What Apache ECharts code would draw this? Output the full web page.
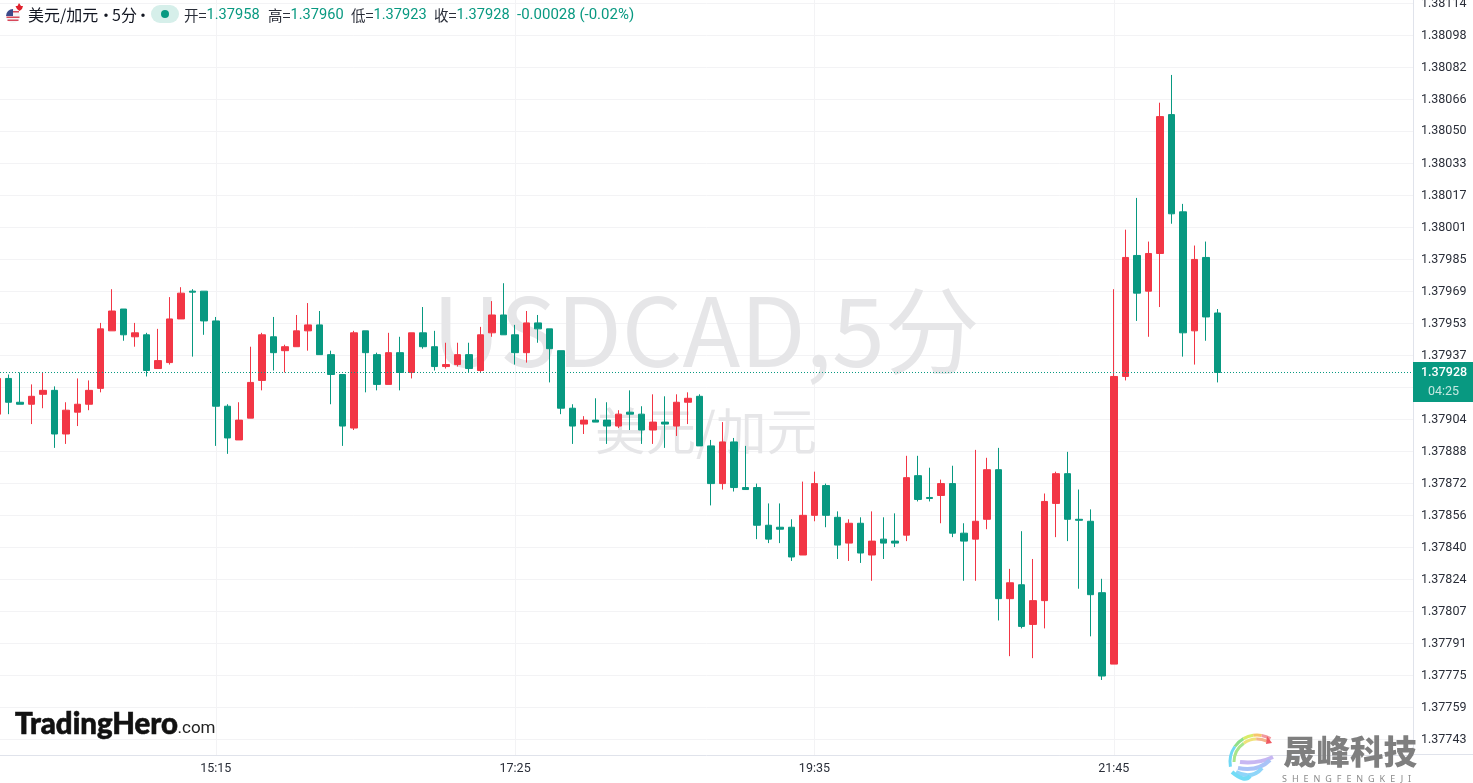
<!DOCTYPE html>
<html><head><meta charset="utf-8">
<style>html,body{margin:0;padding:0;background:#fff;overflow:hidden}#c{width:1473px;height:783px}
#cap{position:absolute;left:1282px;top:774px;font:9px/10px "Noto Sans",sans-serif;letter-spacing:4.95px;color:#8a8a8a;white-space:nowrap}</style>
<script src="https://cdn.jsdelivr.net/npm/echarts@6/dist/echarts.min.js"></script>
</head><body><div id="c"></div><div id="cap">SHENGFENGKEJI</div>
<script>
const times=['13:40','13:45','13:50','13:55','14:00','14:05','14:10','14:15','14:20','14:25',
'14:30','14:35','14:40','14:45','14:50','14:55','15:00','15:05','15:10','15:15',
'15:20','15:25','15:30','15:35','15:40','15:45','15:50','15:55','16:00','16:05',
'16:10','16:15','16:20','16:25','16:30','16:35','16:40','16:45','16:50','16:55',
'17:00','17:05','17:10','17:15','17:20','17:25','17:30','17:35','17:40','17:45',
'17:50','17:55','18:00','18:05','18:10','18:15','18:20','18:25','18:30','18:35',
'18:40','18:45','18:50','18:55','19:00','19:05','19:10','19:15','19:20','19:25',
'19:30','19:35','19:40','19:45','19:50','19:55','20:00','20:05','20:10','20:15',
'20:20','20:25','20:30','20:35','20:40','20:45','20:50','20:55','21:00','21:05',
'21:10','21:15','21:20','21:25','21:30','21:35','21:40','21:45','21:50','21:55',
'22:00','22:05','22:10','22:15','22:20','22:25','22:30'];
const opens=[1.37907,1.37925,1.37913,1.37912,1.37917,1.37919,1.37897,1.37908,1.37912,1.37920,
1.37949,1.37960,1.37946,1.37947,1.37930,1.37933,1.37955,1.37969,1.37969,1.37954,
1.37911,1.37894,1.37905,1.37924,1.37946,1.37939,1.37941,1.37949,1.37952,1.37937,
1.37927,1.37900,1.37949,1.37937,1.37922,1.37938,1.37928,1.37948,1.37941,1.37931,
1.37932,1.37937,1.37929,1.37948,1.37957,1.37947,1.37938,1.37953,1.37950,1.37939,
1.37910,1.37902,1.37904,1.37904,1.37901,1.37908,1.37907,1.37899,1.37903,1.37901,
1.37913,1.37916,1.37891,1.37872,1.37893,1.37870,1.37870,1.37851,1.37850,1.37850,
1.37836,1.37856,1.37871,1.37855,1.37842,1.37852,1.37836,1.37844,1.37843,1.37846,
1.37876,1.37865,1.37866,1.37872,1.37847,1.37844,1.37854,1.37879,1.37814,1.37821,
1.37801,1.37813,1.37862,1.37877,1.37854,1.37853,1.37817,1.37781,1.37926,1.37987,
1.37969,1.37988,1.38058,1.38009,1.37949,1.37986,1.37958];
const closes=[1.37925,1.37913,1.37912,1.37916,1.37919,1.37897,1.37909,1.37912,1.37919,1.37950,
1.37959,1.37947,1.37948,1.37929,1.37934,1.37955,1.37968,1.379685,1.37954,1.37911,
1.37895,1.37904,1.37923,1.37947,1.37938,1.37941,1.37949,1.37952,1.37937,1.37927,
1.37901,1.37948,1.37938,1.37922,1.37938,1.37928,1.37948,1.37941,1.37931,1.37932,
1.37937,1.37930,1.37947,1.37957,1.37947,1.37938,1.37953,1.37950,1.37940,1.37910,
1.37901,1.37904,1.37903,1.37901,1.37907,1.37907,1.37899,1.37903,1.37902,1.37913,
1.37915,1.37891,1.37872,1.37893,1.37870,1.37869,1.37851,1.37844,1.37849,1.37835,
1.37856,1.37872,1.37856,1.37841,1.37852,1.37837,1.37843,1.37842,1.37842,1.37875,
1.37864,1.378645,1.37872,1.37847,1.37843,1.37853,1.37879,1.37814,1.37822,1.37800,
1.37813,1.37863,1.37877,1.37854,1.378535,1.37816,1.37775,1.37926,1.37986,1.37968,
1.37988,1.38057,1.38008,1.37948,1.37985,1.37956,1.37928];
const lows=[1.37907,1.37907,1.37912,1.37902,1.37910,1.37890,1.37892,1.37901,1.37909,1.37918,
1.37949,1.37944,1.37941,1.37926,1.37930,1.37932,1.37955,1.37936,1.37947,1.37891,
1.37887,1.37894,1.37905,1.37919,1.37929,1.37928,1.37941,1.37939,1.37937,1.37912,
1.37891,1.37899,1.37918,1.37919,1.37922,1.37919,1.37925,1.37940,1.37929,1.37930,
1.37931,1.37928,1.37928,1.37946,1.37947,1.37932,1.37933,1.37943,1.37923,1.37907,
1.37892,1.37897,1.37903,1.37892,1.37900,1.37899,1.37892,1.37892,1.37890,1.37896,
1.37902,1.37891,1.37861,1.37869,1.37868,1.37869,1.37844,1.37842,1.37842,1.37833,
1.37836,1.37853,1.37850,1.37834,1.37833,1.37832,1.37823,1.37834,1.37840,1.37843,
1.37863,1.37863,1.37852,1.37845,1.37823,1.37823,1.37849,1.37803,1.37785,1.37799,
1.37784,1.37799,1.37845,1.37843,1.37819,1.37795,1.37773,1.37781,1.37924,1.37954,
1.37946,1.37961,1.38003,1.37936,1.37932,1.37944,1.37923];
const highs=[1.37925,1.37927,1.37928,1.37922,1.37928,1.37921,1.37913,1.37925,1.37924,1.37953,
1.37970,1.37960,1.37953,1.37948,1.37950,1.37966,1.37971,1.37970,1.37969,1.37956,
1.37912,1.37913,1.37941,1.37948,1.37956,1.37942,1.37957,1.37963,1.37959,1.37939,
1.37927,1.37949,1.37949,1.37938,1.37948,1.37946,1.37948,1.37961,1.37949,1.37943,
1.37943,1.37943,1.37951,1.37964,1.37973,1.37952,1.37959,1.37957,1.37950,1.37939,
1.37912,1.37906,1.37915,1.37913,1.37909,1.37919,1.37911,1.37917,1.37916,1.37917,
1.37918,1.37917,1.37894,1.37903,1.37895,1.37891,1.37872,1.37862,1.37862,1.37854,
1.37873,1.37878,1.37872,1.37858,1.37854,1.37855,1.37858,1.37855,1.37857,1.37886,
1.37886,1.37880,1.37874,1.37881,1.37852,1.37889,1.37885,1.37890,1.37829,1.37848,
1.37834,1.37867,1.37878,1.37888,1.37869,1.37859,1.37824,1.37970,1.38000,1.38016,
1.37994,1.38064,1.38078,1.38013,1.37992,1.37994,1.37960];
const priceTicks=[1.38114,1.380979,1.380817,1.380656,1.380496,1.380334,1.380172,1.380011,1.37985,1.379688,
1.379527,1.379366,1.379204,1.379043,1.378882,1.378721,1.378559,1.378398,1.378237,1.378074,
1.377914,1.377753,1.377591,1.37743];
const timeTicks=['15:15','17:25','19:35','21:45'];
const lastClose=1.37928;
const countdown='04:25';
const xMin=821.3,xMax=1434.96,yMin=1.3773518,yMax=1.3811578;

const toMin=t=>{const p=t.split(':');return +p[0]*60+ +p[1]};
const toTime=m=>String(Math.floor(m/60)).padStart(2,'0')+':'+String(m%60).padStart(2,'0');
const candles=times.map((t,i)=>[toMin(t),opens[i],closes[i],lows[i],highs[i]]);
const UP='#F23645',DOWN='#089981',TXT='#2a2e39',GRID='#f3f3f5',AX='#e0e3eb';
const FONT='Roboto,"Noto Sans CJK SC",sans-serif';
const CJK='"Noto Sans CJK SC",Roboto,sans-serif';

const T=(x,y,text,o)=>({type:'text',x,y,z:o.z||50,silent:true,style:Object.assign({text,fontFamily:FONT,fontSize:13,fill:TXT,verticalAlign:'middle'},o.s||{})});
const ohlc=(x,lab,val)=>({type:'text',x,y:15,z:50,silent:true,style:{
  text:'{a|'+lab+'=}{b|'+val+'}',verticalAlign:'middle',
  rich:{a:{fontFamily:CJK,fontSize:14.5,fill:'#2a2e39',color:'#2a2e39'},b:{fontFamily:FONT,fontSize:14.6,fill:DOWN,color:DOWN}}}});
const TT={fontFamily:CJK,fontSize:16,fill:'#131722'};

const graphics=[
 T(706,331,'USDCAD,5分',{z:1,s:{fontFamily:'"Noto Sans CJK SC",sans-serif',fontSize:95,fill:'#e6e6e8',align:'center'}}),
 T(706,431,'美元/加元',{z:1,s:{fontFamily:CJK,fontSize:50.5,fill:'#e6e6e8',align:'center'}}),
 {type:'circle',z:50,silent:true,shape:{cx:13,cy:16,r:7},style:{fill:'#f4f4f6'}},
 {type:'sector',z:51,silent:true,shape:{cx:13,cy:16,r:7,startAngle:Math.PI,endAngle:Math.PI*1.5},style:{fill:'#3c4a8a'}},
 {type:'rect',z:51,silent:true,shape:{x:13,y:11,width:6,height:1.5},style:{fill:'#d8485a'}},
 {type:'rect',z:51,silent:true,shape:{x:6.5,y:16.5,width:13,height:1.5},style:{fill:'#d8485a'}},
 {type:'rect',z:51,silent:true,shape:{x:7.5,y:19.5,width:11,height:1.5},style:{fill:'#d8485a'}},
 {type:'polygon',z:52,silent:true,shape:{points:[[19,3],[21,6],[23,6],[22,9],[19.5,11],[17,9],[15.5,6],[17.5,6]]},style:{fill:'#e0202c'}},
 T(28,15,'美元/加元',{s:TT}),T(98,15,'·',{s:TT}),T(112,15,'5分',{s:TT}),T(135,15,'·',{s:TT}),
 {type:'rect',z:50,silent:true,shape:{x:151,y:5,width:28,height:18,r:9},style:{fill:'#d6efea'}},
 {type:'circle',z:51,silent:true,shape:{cx:165,cy:14,r:4},style:{fill:DOWN}},
 ohlc(184,'开','1.37958'),ohlc(268,'高','1.37960'),ohlc(351,'低','1.37923'),ohlc(434,'收','1.37928'),
 T(517,15,'-0.00028 (-0.02%)',{s:{fontSize:15,fill:DOWN}}),
 {type:'line',z:3,silent:true,shape:{x1:1413,y1:754.5,x2:1473,y2:754.5},style:{stroke:AX,lineWidth:1}},
 {type:'rect',z:100,silent:true,shape:{x:1413,y:362,width:60,height:40},style:{fill:DOWN}},
 T(1421,372.5,lastClose.toFixed(5),{z:101,s:{fontSize:12.5,fontWeight:500,fill:'#fff'}}),
 T(1428,392,countdown,{z:101,s:{fontSize:12.5,fill:'#c4e8e1'}}),
 T(15,725,'TradingHero',{z:60,s:{fontFamily:'Lato',fontWeight:900,fontSize:29.4,fill:'#111',stroke:'#111',lineWidth:0.6}}),
 T(177.5,729,'.com',{z:60,s:{fontFamily:'Roboto',fontSize:17,fill:'#222'}}),
 ...[['#6fd8f5',27,170,215],['#8fe08a',27,215,240],['#d9ec6a',27,240,262],['#f6c66a',27,262,280],['#f29aa0',27,280,300],
     ['#a8e58a',23,180,235],['#efe27a',23,235,268],['#f4b48a',23,268,295]].map(a=>({type:'arc',z:60,silent:true,
     shape:{cx:1257,cy:762,r:a[1],startAngle:a[2]*Math.PI/180,endAngle:a[3]*Math.PI/180},style:{stroke:a[0],fill:'none',lineWidth:3}})),
 {type:'polygon',z:60,silent:true,shape:{points:[[1267,736],[1272,743],[1266,744]]},style:{fill:'#ef5a62'}},
 ...[['#c7b7f2',[1273,757],[1258,764],[1240,762]],['#a9c3f7',[1270,760],[1258,772],[1238,768]],['#8fd5f9',[1262,768],[1252,780],[1236,772]],['#72dcf6',[1250,776],[1245,783],[1232,772]]].map(a=>({type:'bezierCurve',z:60,silent:true,
     shape:{x1:a[1][0],y1:a[1][1],cpx1:a[2][0],cpy1:a[2][1],x2:a[3][0],y2:a[3][1]},style:{stroke:a[0],fill:'none',lineWidth:4}})),
 T(1283,751,'晟峰科技',{z:60,s:{fontFamily:CJK,fontWeight:900,fontSize:33.5,fill:'#7f7f7f'}})
];

const chart=echarts.init(document.getElementById('c'),null,{renderer:'canvas',width:1473,height:783});
chart.setOption({
 animation:false,backgroundColor:'#fff',
 grid:{left:0,right:60,top:0,bottom:28,containLabel:false,outerBoundsMode:'none'},
 xAxis:{type:'value',min:xMin,max:xMax,position:'bottom',
  axisLine:{show:true,onZero:false,lineStyle:{color:AX}},
  axisTick:{show:false,customValues:timeTicks.map(toMin)},
  splitLine:{show:true,lineStyle:{color:GRID,width:1}},
  axisLabel:{customValues:timeTicks.map(toMin),formatter:v=>toTime(v),color:TXT,fontFamily:FONT,fontSize:12.5,margin:8}},
 yAxis:{type:'value',position:'right',min:yMin,max:yMax,scale:true,
  axisLine:{show:true,lineStyle:{color:AX}},
  axisTick:{show:false,customValues:priceTicks},
  splitLine:{show:true,lineStyle:{color:GRID,width:1}},
  axisLabel:{customValues:priceTicks,formatter:v=>v.toFixed(5),color:TXT,fontFamily:FONT,fontSize:12.5,margin:8,padding:[2,0,0,0],showMinLabel:true,showMaxLabel:true,hideOverlap:false}},
 series:[{type:'candlestick',name:'USDCAD',data:candles,barWidth:7,
  encode:{x:0,y:[1,2,3,4]},
  itemStyle:{color:UP,color0:DOWN,borderColor:UP,borderColor0:DOWN,borderWidth:1}},
  {type:'line',name:'last',silent:true,symbol:'none',z:5,data:[[xMin,lastClose],[xMax,lastClose]],
   lineStyle:{color:DOWN,type:[1,2],width:1}}],
 graphic:{elements:graphics}
});
</script></body></html>
